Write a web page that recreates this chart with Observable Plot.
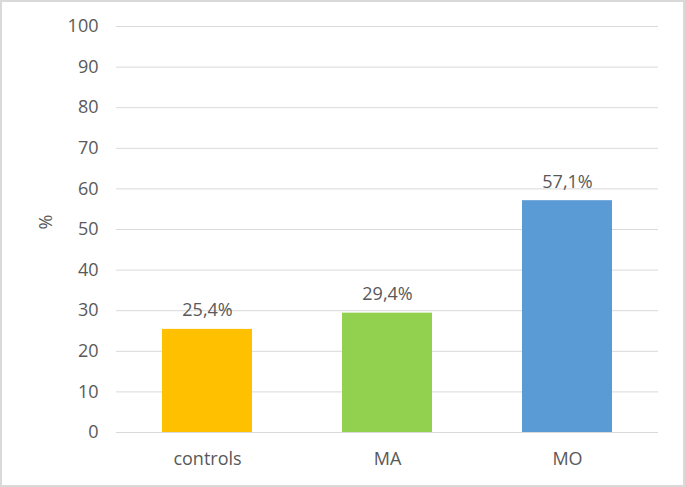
<!DOCTYPE html>
<html>
<head>
<meta charset="utf-8">
<script src="https://cdn.jsdelivr.net/npm/d3@7"></script>
<script src="https://cdn.jsdelivr.net/npm/@observablehq/plot@0.6"></script>
<style>
  html, body { margin: 0; padding: 0; background: #fff; }
  #frame { box-sizing: border-box; width: 685px; height: 487px; border: 2px solid #d9d9d9; background: #fff; overflow: hidden; }
  #frame svg { display: block; }
</style>
</head>
<body>
<div id="frame"></div>
<script>
const categories = ["controls", "MA", "MO"];
const values = [25.4, 29.4, 57.1];
const labels = ["25,4%", "29,4%", "57,1%"];
const colors = ["#FFC000", "#92D050", "#5B9BD5"];
const yTicks = [0, 10, 20, 30, 40, 50, 60, 70, 80, 90, 100];

const data = categories.map((c, i) => ({cat: c, value: values[i], label: labels[i], color: colors[i]}));
const font = "'Open Sans', sans-serif";

const chart = Plot.plot({
  width: 681,
  height: 483,
  marginLeft: 114,
  marginRight: 25,
  marginTop: 24,
  marginBottom: 53,
  style: {fontFamily: font, fontSize: "18px", color: "#595959", background: "white"},
  x: {domain: categories, paddingInner: 0.5, paddingOuter: 0.25, label: null},
  y: {domain: [0, 100], label: null},
  marks: [
    Plot.gridY(yTicks, {stroke: "#d9d9d9", strokeOpacity: 1, strokeWidth: 1}),
    Plot.axisY(yTicks, {tickSize: 0, tickPadding: 18, label: null, fill: "#595959", fontSize: 18}),
    Plot.axisX({tickSize: 0, tickPadding: 20, label: null, fill: "#595959", fontSize: 18}),
    Plot.barY(data, {x: "cat", y: "value", fill: "color"}),
    Plot.text(data, {x: "cat", y: "value", text: "label", lineAnchor: "bottom", dy: -13, fill: "#595959", fontSize: 18}),
    Plot.text(["%"], {frameAnchor: "left", dx: -70, rotate: -90, fill: "#595959", fontSize: 18})
  ]
});
document.getElementById("frame").appendChild(chart);
</script>
</body>
</html>
